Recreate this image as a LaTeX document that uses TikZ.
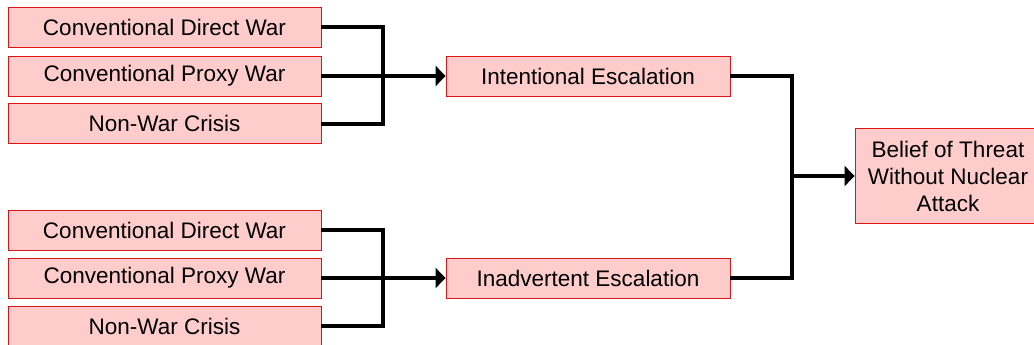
\documentclass[tikz,border=0pt]{standalone}
\usepackage{fontspec}
\setmainfont{Liberation Sans}
\usetikzlibrary{arrows.meta}
\definecolor{boxfill}{RGB}{255,204,204}
\definecolor{boxline}{RGB}{220,20,20}
\begin{document}
\begin{tikzpicture}[x=1pt,y=-1pt,
  box/.style={draw=boxline,fill=boxfill,line width=0.9pt,inner sep=0pt,
    minimum height=40pt,font=\fontsize{22.5}{27}\selectfont,align=center},
  lbox/.style={box,minimum width=313pt},
  ebox/.style={box,minimum width=284pt},
  link/.style={line width=4pt,line join=miter},
  arr/.style={link,-{Triangle[length=10pt,width=20pt]}}]
\useasboundingbox (0,0) rectangle (1034,345);
\begin{scope}
\clip (0,0) rectangle (1034,345);
\node[lbox] (a1) at (164.5,27) {Conventional Direct War};
\node[lbox] (a2) at (164.5,76) {Conventional Proxy War};
\node[lbox] (a3) at (164.5,123.5) {Non-War Crisis};
\node[lbox] (b1) at (164.5,230) {Conventional Direct War};
\node[lbox] (b2) at (164.5,278) {Conventional Proxy War};
\node[lbox] (b3) at (164.5,326) {Non-War Crisis};
\node[ebox] (ie) at (588,76) {Intentional Escalation};
\node[ebox] (ae) at (588,278) {Inadvertent Escalation};
\node[box,minimum width=186pt,minimum height=95pt] (bt) at (948,176) {Belief of Threat\\Without Nuclear\\Attack};
\coordinate (j1) at (383,76);
\coordinate (j2) at (383,278);
\coordinate (j3) at (792,176);
\draw[link] (a1.east) -| (j1) |- (a3.east);
\draw[arr] (a2.east) -- (ie.west);
\draw[link] (b1.east) -| (j2) |- (b3.east);
\draw[arr] (b2.east) -- (ae.west);
\draw[link] (ie.east) -| (j3) |- (ae.east);
\draw[arr] (j3) -- (bt.west);
\end{scope}
\end{tikzpicture}
\end{document}
